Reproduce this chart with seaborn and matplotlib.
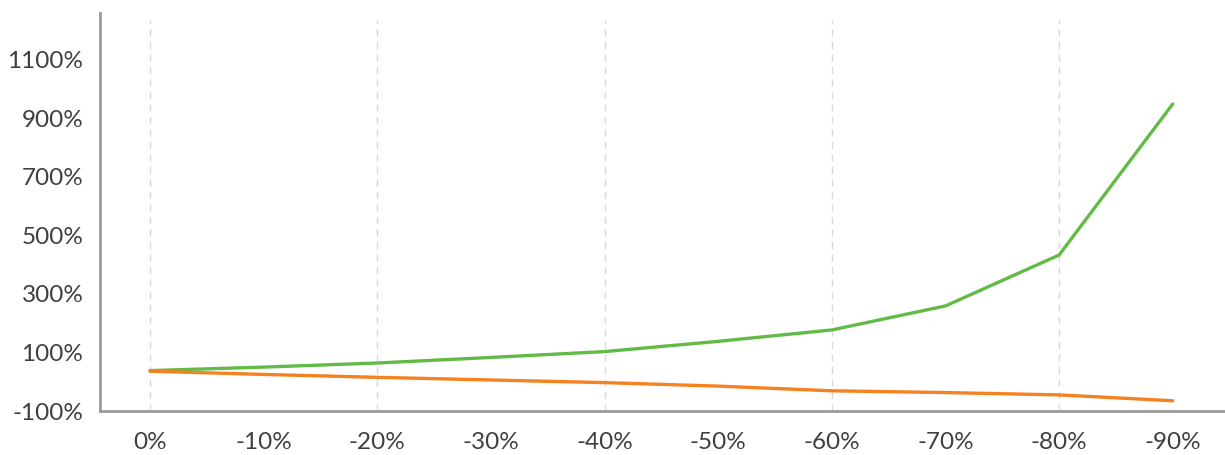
import matplotlib
matplotlib.use("Agg")
import matplotlib.pyplot as plt
import seaborn as sns
import pandas as pd

# Market decline levels and the two series plotted against them
declines = ["0%", "-10%", "-20%", "-30%", "-40%", "-50%", "-60%", "-70%", "-80%", "-90%"]
green_series = [38, 50, 64, 83, 103, 138, 177, 259, 433, 949]
orange_series = [36, 25, 15, 6, -3, -15, -31, -37, -45, -65]
y_ticks = [-100, 100, 300, 500, 700, 900, 1100]

GREEN = "#62bb46"
ORANGE = "#f58220"
AXIS_GREY = "#9a9a9a"
TEXT_GREY = "#3f3f3f"

sns.set_theme(style="white")
plt.rcParams["font.family"] = ["Lato", "DejaVu Sans"]

df = pd.DataFrame({
    "pos": list(range(len(declines))) * 2,
    "value": green_series + orange_series,
    "series": ["green"] * len(declines) + ["orange"] * len(declines),
})

fig = plt.figure(figsize=(12.25, 4.55), dpi=100)
ax = fig.add_axes([100 / 1225, 44 / 455, 1125 / 1225, 398 / 455])

ymin, ymax = -100, 1260
ax.set_ylim(ymin, ymax)
ax.set_xlim(-0.44, 9.46)

# dashed guides at every other category
grid_top = (1237 - ymin) / (ymax - ymin)
for i in range(0, len(declines), 2):
    ax.axvline(i, ymin=0, ymax=grid_top, color="#d9d9d9", lw=1.0,
               ls=(0, (5, 4)), zorder=0)

sns.lineplot(data=df, x="pos", y="value", hue="series",
             palette={"green": GREEN, "orange": ORANGE},
             linewidth=2.4, legend=False, ax=ax, zorder=3)

ax.set_xticks(range(len(declines)))
ax.set_xticklabels(declines)
ax.set_yticks(y_ticks)
ax.set_yticklabels([f"{v}%" for v in y_ticks])
ax.set_xlabel("")
ax.set_ylabel("")

ax.tick_params(axis="both", length=0, labelsize=17.5, colors=TEXT_GREY)
ax.tick_params(axis="y", pad=12)
ax.tick_params(axis="x", pad=15)

for side in ["top", "right"]:
    ax.spines[side].set_visible(False)
for side in ["left", "bottom"]:
    ax.spines[side].set_color(AXIS_GREY)
    ax.spines[side].set_linewidth(2.0)

fig.savefig("out.png", dpi=100, facecolor="white")
